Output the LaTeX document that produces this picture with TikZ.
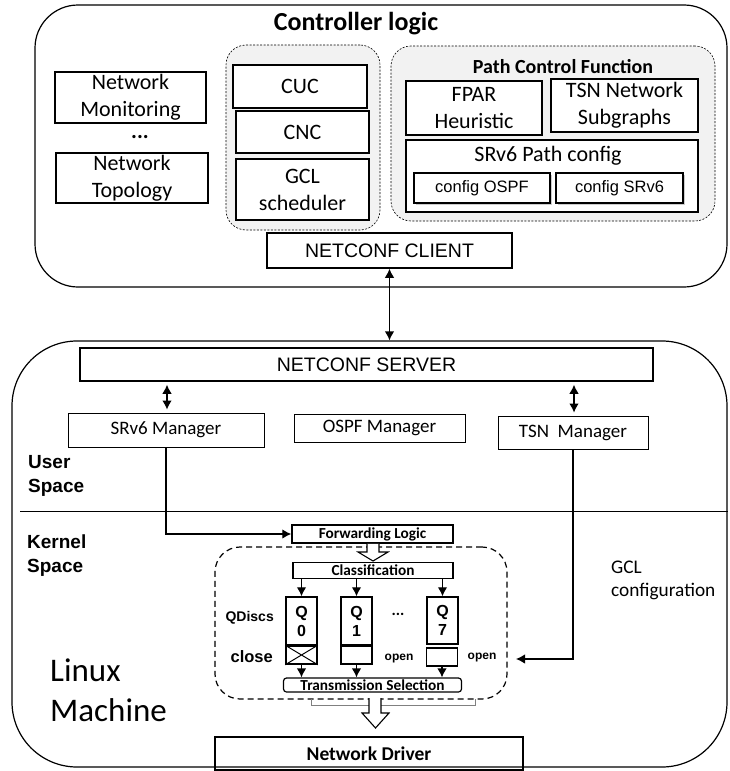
\documentclass[tikz,border=0pt]{standalone}
\usepackage{fontspec}
\setmainfont{Carlito}
\newfontfamily\arialfont{Liberation Sans}
\usetikzlibrary{arrows.meta, shadows}

\begin{document}
\begin{tikzpicture}[x=1pt,y=-1pt,>={Latex[length=9pt,width=9.5pt]},
  outer box/.style={draw,line width=1.2pt,inner sep=0pt},
  group box/.style={draw,line width=0.6pt,dash pattern=on 2pt off 1.5pt,fill=gray!10,rounded corners=20pt,inner sep=0pt},
  main box/.style={draw,line width=1.5pt,fill=white,align=center,inner sep=0pt,font=\fontsize{22}{27}\selectfont},
  cfg box/.style={main box,drop shadow={shadow xshift=2pt,shadow yshift=-2pt,opacity=0.4},font=\arialfont\fontsize{16.5}{20}\selectfont},
  mgr box/.style={draw,line width=0.9pt,fill=white,inner sep=0pt,font=\fontsize{19}{23}\selectfont},
  k box/.style={draw,line width=1.5pt,fill=white,inner sep=0pt,font=\bfseries\fontsize{15.3}{18}\selectfont},
  q box/.style={draw,line width=1.5pt,fill=white,inner sep=0pt,minimum width=31pt,align=center,font=\arialfont\bfseries\fontsize{16}{19}\selectfont},
  side label/.style={anchor=west,align=left,inner sep=0pt,font=\arialfont\bfseries\fontsize{19}{24}\selectfont},
  link/.style={->,line width=1.2pt},
  hollow/.style={draw,line width=1.1pt,fill=white}]
  \useasboundingbox (0,0) rectangle (729,771);

  % controller
  \node[outer box,minimum width=692pt,minimum height=282pt,rounded corners=43pt] (ctrl) at (381,146) {};
  \node[font=\bfseries\fontsize{26}{30}\selectfont] (ctrltitle) at (356,24) {Controller logic};

  \node[group box,minimum width=154pt,minimum height=185pt] (tsngrp) at (303,137.5) {};
  \node[group box,minimum width=324pt,minimum height=175pt] (pcfgrp) at (553,133.5) {};
  \node[font=\bfseries\fontsize{20}{24}\selectfont] (pcftitle) at (563,67) {Path Control Function};

  \node[main box,minimum width=151pt,minimum height=51pt] (mon) at (130.5,97.5) {Network\\Monitoring};
  \node[font=\bfseries\fontsize{22}{27}\selectfont] (mondots) at (140,137) {...};
  \node[main box,minimum width=152pt,minimum height=50pt] (topo) at (132,178) {Network\\Topology};

  \node[main box,minimum width=134pt,minimum height=43pt] (cuc) at (300,86.5) {CUC};
  \node[main box,minimum width=133pt,minimum height=42pt] (cnc) at (302.5,132) {CNC};
  \node[main box,minimum width=133pt,minimum height=61pt] (gcl) at (302.5,189.5) {GCL\\scheduler};

  \node[main box,minimum width=136pt,minimum height=54pt] (fpar) at (474,108) {FPAR\\Heuristic};
  \node[main box,minimum width=147pt,minimum height=53pt] (subg) at (624.5,105.5) {TSN Network\\Subgraphs};
  \node[main box,minimum width=292pt,minimum height=72pt] (srpath) at (552,176) {};
  \node[font=\fontsize{22}{27}\selectfont] (srtitle) at (548,156) {SRv6 Path config};
  \node[cfg box,minimum width=136pt,minimum height=30pt] (cospf) at (482,188) {config OSPF};
  \node[cfg box,minimum width=127pt,minimum height=30pt] (csrv6) at (619.5,188) {config SRv6};

  \node[main box,minimum width=245pt,minimum height=35pt,font=\arialfont\fontsize{19.5}{23}\selectfont] (client) at (389.5,250.5) {NETCONF CLIENT};

  % linux machine
  \node[outer box,minimum width=715pt,minimum height=426pt,rounded corners=65pt] (lnx) at (369.5,554) {};
  \node[main box,minimum width=573pt,minimum height=33pt,font=\arialfont\fontsize{19.5}{23}\selectfont] (server) at (366.5,364.5) {NETCONF SERVER};

  \node[mgr box,minimum width=196pt,minimum height=34pt] (srm) at (166,430) {SRv6 Manager};
  \node[mgr box,minimum width=171pt,minimum height=28pt] (ospfm) at (379.5,428) {OSPF Manager};
  \node[mgr box,minimum width=150pt,minimum height=33pt] (tsnm) at (573,432.5) {TSN\ \ Manager};

  \node[side label] (user) at (28,476) {User\\Space};
  \draw[line width=1.2pt] (20,511.5) -- (lnx.east |- 0,511.5);
  \node[side label] (kernel) at (27,556) {Kernel\\Space};

  \node[anchor=west,align=left,inner sep=0pt,font=\fontsize{33}{40}\selectfont] (linux) at (50,690) {Linux\\Machine};
  \node[anchor=west,align=left,inner sep=0pt,font=\fontsize{19.3}{23}\selectfont] (gclcfg) at (611,580.5) {GCL\\configuration};

  \node[draw,line width=1.2pt,dash pattern=on 6pt off 4pt,rounded corners=25pt,minimum width=292pt,minimum height=152pt,inner sep=0pt] (kern) at (361,623) {};

  \node[k box,minimum width=161pt,minimum height=18pt] (fwd) at (372.5,534) {Forwarding Logic};
  \node[k box,minimum width=160pt,minimum height=16pt] (cls) at (373,570.5) {Classification};

  \node[q box,minimum height=48pt] (q0) at (301.5,621) {Q\\0};
  \node[q box,minimum height=48pt] (q1) at (356.5,621) {Q\\1};
  \node[q box,minimum height=47pt] (q7) at (442.5,620.5) {Q\\7};
  \node[font=\bfseries\fontsize{16}{19}\selectfont] (qdots) at (398,614) {...};

  \node[q box,minimum height=18pt] (g0) at (301.5,655) {};
  \node[q box,minimum height=18pt] (g1) at (356.5,655) {};
  \node[q box,minimum height=18pt,line width=1.2pt] (g7) at (442,657) {};
  \draw[line width=1pt] (g0.north west) -- (g0.south east) (g0.south west) -- (g0.north east);

  \node[anchor=east,inner sep=0pt,font=\arialfont\bfseries\fontsize{14}{17}\selectfont] (qdiscs) at (274,618) {QDiscs};
  \node[anchor=east,inner sep=0pt,font=\arialfont\bfseries\fontsize{16.5}{19}\selectfont] (close) at (273,657) {close};
  \node[inner sep=0pt,font=\arialfont\bfseries\fontsize{12}{14}\selectfont] (open1) at (399,658.5) {open};
  \node[inner sep=0pt,font=\arialfont\bfseries\fontsize{12}{14}\selectfont] (open7) at (482,657.5) {open};

  \node[k box,line width=1.2pt,rounded corners=3pt,minimum width=178pt,minimum height=14pt] (tsel) at (372.5,685) {Transmission Selection};

  \node[draw,line width=1.2pt,inner sep=0pt,minimum width=308pt,minimum height=33pt,font=\bfseries\fontsize{19.5}{23}\selectfont] (drv) at (369,753.5) {Network Driver};

  % hollow arrows
  \draw[hollow] (fwd.south -| 367,0) -- (367,552) -- (358,552) -- (373,561) -- (388,552) -- (379,552) -- (fwd.south -| 379,0);
  \draw[gray,line width=0.6pt] (311,699) -- (311,705.5) -- (475,705.5) -- (475,699);
  \draw[hollow] (369,698) -- (369,713) -- (362,713) -- (375.5,728) -- (389,713) -- (381,713) -- (381,698);

  % connectors
  \draw[link,<->] (client.south) -- (client.south |- lnx.north);
  \draw[link,<->,shorten >=3pt,shorten <=3pt] (srm.north -| 167,0) -- (server.south -| 167,0);
  \draw[link,<->,shorten >=3pt,shorten <=3pt] (tsnm.north -| 574,0) -- (server.south -| 574,0);
  \draw[link] (srm.south) |- (fwd.west);
  \coordinate (gclin) at (516,659);
  \draw[link] (tsnm.south) |- (gclin);
  \foreach \q in {q0,q1,q7}
    \draw[link] (cls.south -| \q.north) -- (\q.north);
  \draw[link] (g0.south) -- (g0.south |- tsel.north);
  \draw[link] (g1.south) -- (g1.south |- tsel.north);
  \draw[link] (g7.south) -- (g7.south |- tsel.north);
\end{tikzpicture}
\end{document}
